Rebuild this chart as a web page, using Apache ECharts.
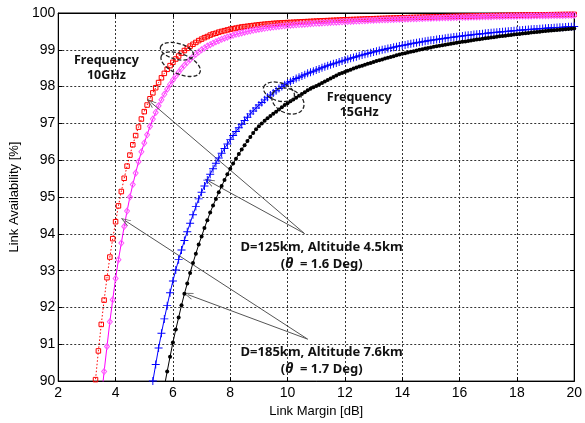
<!DOCTYPE html>
<html><head><meta charset="utf-8">
<script src="https://cdn.jsdelivr.net/npm/echarts@6/dist/echarts.min.js"></script>
<style>html,body{margin:0;padding:0;background:#fff}#c{width:585px;height:423px}</style>
</head><body><div id="c"></div>
<script>
// Link margin samples [dB]
const margin = [3.2,3.3,3.4,3.5,3.6,3.7,3.8,3.9,
4.0,4.1,4.2,4.3,4.4,4.5,4.6,4.7,4.8,4.9,
5.0,5.1,5.2,5.3,5.4,5.5,5.6,5.7,5.8,5.9,
6.0,6.1,6.2,6.3,6.4,6.5,6.6,6.7,6.8,6.9,
7.0,7.1,7.2,7.3,7.4,7.5,7.6,7.7,7.8,7.9,
8.0,8.1,8.2,8.3,8.4,8.5,8.6,8.7,8.8,8.9,
9.0,9.1,9.2,9.3,9.4,9.5,9.6,9.7,9.8,9.9,
10.0,10.1,10.2,10.3,10.4,10.5,10.6,10.7,10.8,10.9,
11.0,11.1,11.2,11.3,11.4,11.5,11.6,11.7,11.8,11.9,
12.0,12.1,12.2,12.3,12.4,12.5,12.6,12.7,12.8,12.9,
13.0,13.1,13.2,13.3,13.4,13.5,13.6,13.7,13.8,13.9,
14.0,14.1,14.2,14.3,14.4,14.5,14.6,14.7,14.8,14.9,
15.0,15.1,15.2,15.3,15.4,15.5,15.6,15.7,15.8,15.9,
16.0,16.1,16.2,16.3,16.4,16.5,16.6,16.7,16.8,16.9,
17.0,17.1,17.2,17.3,17.4,17.5,17.6,17.7,17.8,17.9,
18.0,18.1,18.2,18.3,18.4,18.5,18.6,18.7,18.8,18.9,
19.0,19.1,19.2,19.3,19.4,19.5,19.6,19.7,19.8,19.9,
20.0];

// 10 GHz, D=125km (red squares) - from 3.2 dB
const avail10G_D125 = [89.20,
90.04,90.82,91.54,92.20,92.81,93.37,93.87,
94.33,94.76,95.15,95.51,95.84,96.14,96.42,96.67,96.90,97.12,
97.32,97.50,97.67,97.83,97.97,98.11,98.24,98.36,98.47,98.57,
98.66,98.75,98.83,98.91,98.98,99.04,99.10,99.15,99.20,99.25,
99.29,99.33,99.36,99.40,99.43,99.45,99.48,99.50,99.52,99.54,
99.56,99.575,99.59,99.605,99.62,99.63,99.64,99.65,99.66,99.67,
99.68,99.688,99.695,99.702,99.71,99.717,99.722,99.727,99.732,99.736,
99.74,99.744,99.748,99.752,99.756,99.76,99.764,99.768,99.772,99.776,
99.78,99.784,99.787,99.791,99.794,99.798,99.801,99.805,99.808,99.812,
99.815,99.818,99.821,99.824,99.827,99.830,99.833,99.836,99.839,99.842,
99.845,99.848,99.850,99.853,99.855,99.858,99.860,99.863,99.865,99.868,
99.870,99.872,99.874,99.877,99.879,99.881,99.883,99.885,99.888,99.890,
99.892,99.894,99.896,99.897,99.899,99.901,99.903,99.904,99.906,99.908,
99.910,99.912,99.913,99.915,99.916,99.918,99.920,99.921,99.923,99.924,
99.926,99.927,99.929,99.930,99.932,99.933,99.934,99.936,99.937,99.939,
99.940,99.941,99.942,99.944,99.945,99.946,99.947,99.948,99.950,99.951,
99.952,99.953,99.954,99.955,99.956,99.957,99.958,99.959,99.960,99.961,
99.962];

// 10 GHz, D=185km (magenta diamonds) - from 3.5 dB
const avail10G_D185 = [89.50,90.26,90.94,91.61,92.21,
92.79,93.30,93.75,94.20,94.62,95.00,95.34,95.65,95.96,96.23,
96.47,96.69,96.92,97.12,97.30,97.48,97.64,97.79,97.93,98.06,
98.18,98.29,98.39,98.49,98.58,98.66,98.74,98.81,98.88,98.94,
99.00,99.05,99.10,99.14,99.18,99.22,99.25,99.285,99.315,99.345,
99.37,99.395,99.42,99.44,99.46,99.48,99.50,99.515,99.53,99.545,
99.56,99.573,99.585,99.597,99.608,99.618,99.628,99.637,99.646,99.654,
99.662,99.668,99.674,99.679,99.685,99.691,99.697,99.702,99.708,99.714,
99.720,99.724,99.729,99.733,99.738,99.742,99.747,99.751,99.756,99.760,
99.765,99.769,99.773,99.777,99.781,99.785,99.789,99.793,99.797,99.801,
99.805,99.808,99.811,99.814,99.817,99.820,99.823,99.826,99.829,99.832,
99.835,99.837,99.840,99.842,99.845,99.847,99.850,99.852,99.855,99.857,
99.860,99.862,99.864,99.867,99.869,99.871,99.873,99.875,99.878,99.880,
99.882,99.884,99.886,99.887,99.889,99.891,99.893,99.895,99.896,99.898,
99.900,99.901,99.903,99.904,99.906,99.907,99.909,99.910,99.912,99.913,
99.915,99.916,99.918,99.919,99.920,99.922,99.923,99.924,99.925,99.927,
99.928,99.929,99.930,99.932,99.933,99.934,99.935,99.936,99.938,99.939,
99.940];

// 15 GHz, D=125km (blue plus) - from 5.2 dB
const avail15G_D125 = [89.55,90.00,90.45,90.90,91.30,91.69,92.05,92.40,
92.72,93.02,93.30,93.56,93.82,94.06,94.29,94.52,94.74,94.95,
95.13,95.30,95.46,95.62,95.77,95.92,96.06,96.19,96.32,96.44,
96.56,96.67,96.78,96.88,96.98,97.08,97.17,97.26,97.34,97.42,
97.50,97.57,97.64,97.71,97.77,97.83,97.89,97.95,98.00,98.05,
98.10,98.14,98.18,98.22,98.255,98.29,98.325,98.36,98.39,98.42,
98.45,98.48,98.51,98.54,98.57,98.595,98.62,98.645,98.67,98.695,
98.72,
98.744,98.768,98.791,98.814,98.837,98.859,98.880,98.901,98.922,98.943,
98.962,98.981,98.999,99.017,99.035,99.052,99.069,99.086,99.102,99.118,
99.133,99.148,99.162,99.176,99.190,99.204,99.218,99.231,99.244,99.257,
99.269,99.281,99.292,99.303,99.314,99.325,99.336,99.347,99.357,99.367,
99.377,99.386,99.395,99.404,99.413,99.422,99.431,99.439,99.447,99.455,
99.463,99.470,99.477,99.484,99.491,99.498,99.505,99.512,99.519,99.526,
99.532,99.538,99.544,99.550,99.556,99.562,99.568,99.574,99.580,99.585,
99.590,99.595,99.600,99.605,99.610,99.615,99.620,99.624,99.628,99.632];

// 15 GHz, D=185km (black dots) - from 5.7 dB
const avail15G_D185 = [89.85,90.26,90.66,
91.05,91.40,91.73,92.06,92.37,92.65,92.94,93.21,93.46,93.71,
93.93,94.16,94.37,94.58,94.77,94.95,95.13,95.30,95.46,95.62,
95.77,95.91,96.04,96.17,96.29,96.41,96.52,96.63,96.74,96.84,
96.92,97.00,97.07,97.14,97.20,97.26,97.32,97.38,97.44,97.50,
97.55,97.60,97.65,97.70,97.75,97.80,97.85,97.90,97.94,97.98,
98.02,98.06,98.10,98.14,98.18,98.22,98.26,98.30,98.34,98.37,
98.40,
98.43,98.46,98.49,98.52,98.545,98.57,98.595,98.62,98.645,98.67,
98.694,98.717,98.74,98.763,98.785,98.807,98.828,98.849,98.87,98.89,
98.909,98.928,98.946,98.964,98.982,98.999,99.016,99.033,99.049,99.065,
99.08,99.095,99.109,99.123,99.137,99.151,99.165,99.178,99.191,99.204,
99.217,99.229,99.242,99.254,99.266,99.277,99.289,99.300,99.311,99.322,
99.333,99.344,99.354,99.365,99.375,99.385,99.395,99.404,99.414,99.423,
99.432,99.441,99.450,99.459,99.468,99.476,99.485,99.493,99.501,99.509,
99.517,99.525,99.532,99.540,99.547,99.554,99.561,99.568,99.575,99.582];

const xTicks = [2,4,6,8,10,12,14,16,18,20];
const yTicks = [90,91,92,93,94,95,96,97,98,99,100];
const xTitle = 'Link Margin [dB]';
const yTitle = 'Link Availability [%]';
const freqLabels = ['Frequency\n10GHz', 'Frequency\n15GHz'];
const caseLabels = [['D=125km, Altitude 4.5km', '1.6'], ['D=185km, Altitude 7.6km', '1.7']];

function pairs(vals) {
  const off = margin.length - vals.length;
  return vals.map((v, i) => [margin[off + i], v]);
}

const chart = echarts.init(document.getElementById('c'), null, {renderer: 'canvas'});
const plusPath = 'path://M4.4,0H5.6V4.4H10V5.6H5.6V10H4.4V5.6H0V4.4H4.4Z';
const arrowPath = 'path://M5,0L10,10L8.8,10L5,2.4L1.2,10L0,10Z';
const tickFont = {fontFamily: 'Liberation Sans, Arial, sans-serif', fontSize: 14, color: '#000'};

const arrowLine = {color: '#555', width: 1, type: 'solid'};

const option = {
  animation: false,
  backgroundColor: '#fff',
  grid: {left: 54, right: 6, top: 13, bottom: 37, show: true, borderColor: '#000', borderWidth: 1},
  xAxis: [{
    type: 'value', min: xTicks[0], max: xTicks[xTicks.length - 1], interval: 2,
    name: xTitle, nameLocation: 'middle', nameGap: 19,
    nameTextStyle: {fontFamily: 'Liberation Sans, Arial, sans-serif', fontSize: 13, color: '#000'},
    axisLine: {show: true, onZero: false, lineStyle: {color: '#000', width: 1}},
    axisTick: {show: true, inside: true, length: 4, lineStyle: {color: '#000'}},
    axisLabel: Object.assign({margin: 5}, tickFont),
    splitLine: {show: true, lineStyle: {color: '#333', width: 1, type: [2, 2]}}
  }, {
    type: 'value', position: 'top', min: xTicks[0], max: xTicks[xTicks.length - 1], interval: 2,
    axisLine: {show: true, onZero: false, lineStyle: {color: '#000'}},
    axisTick: {show: true, inside: true, length: 4, lineStyle: {color: '#000'}},
    axisLabel: {show: false}, splitLine: {show: false}
  }],
  yAxis: [{
    type: 'value', min: yTicks[0], max: yTicks[yTicks.length - 1], interval: 1,
    name: yTitle, nameLocation: 'middle', nameGap: 29,
    nameTextStyle: {fontFamily: 'Liberation Sans, Arial, sans-serif', fontSize: 13, color: '#000'},
    axisLine: {show: true, onZero: false, lineStyle: {color: '#000', width: 1}},
    axisTick: {show: true, inside: true, length: 4, lineStyle: {color: '#000'}},
    axisLabel: Object.assign({margin: 3}, tickFont),
    splitLine: {show: true, lineStyle: {color: '#333', width: 1, type: [2, 2]}}
  }, {
    type: 'value', position: 'right', min: yTicks[0], max: yTicks[yTicks.length - 1], interval: 1,
    axisLine: {show: true, onZero: false, lineStyle: {color: '#000'}},
    axisTick: {show: true, inside: true, length: 4, lineStyle: {color: '#000'}},
    axisLabel: {show: false}, splitLine: {show: false}
  }],
  series: [
    {
      name: '10GHz D=125km', type: 'line', data: pairs(avail10G_D125),
      symbol: 'rect', symbolSize: 4.5, z: 3,
      lineStyle: {color: '#ff0000', width: 1, type: [1.5, 2]},
      itemStyle: {color: 'rgba(0,0,0,0)', borderColor: '#ff0000', borderWidth: 1},
      emphasis: {disabled: true},
      markLine: {
        silent: true, symbol: ['none', arrowPath], symbolSize: [7, 10],
        label: {show: false}, lineStyle: arrowLine, emphasis: {disabled: true},
        data: [
          [{coord: [10.59, 94.01]}, {coord: [5.22, 97.58]}],
          [{coord: [10.59, 94.01]}, {coord: [7.26, 95.43]}],
          [{coord: [10.70, 91.14]}, {coord: [4.33, 94.36]}],
          [{coord: [10.70, 91.14]}, {coord: [6.52, 92.35]}]
        ]
      }
    },
    {
      name: '10GHz D=185km', type: 'line', data: pairs(avail10G_D185),
      symbol: 'diamond', symbolSize: [5, 6], z: 4,
      lineStyle: {color: '#ff00ff', width: 1},
      itemStyle: {color: 'rgba(0,0,0,0)', borderColor: '#ff55ff', borderWidth: 1},
      emphasis: {disabled: true}
    },
    {
      name: '15GHz D=125km', type: 'line', data: pairs(avail15G_D125),
      symbol: plusPath, symbolSize: 8, z: 5,
      lineStyle: {color: '#0000ff', width: 1},
      itemStyle: {color: '#0000ff'},
      emphasis: {disabled: true}
    },
    {
      name: '15GHz D=185km', type: 'line', data: pairs(avail15G_D185),
      symbol: 'circle', symbolSize: 4, z: 6,
      lineStyle: {color: '#000', width: 1},
      itemStyle: {color: '#000'},
      emphasis: {disabled: true}
    }
  ]
};
chart.setOption(option);

const px = (x, y) => chart.convertToPixel({xAxisIndex: 0, yAxisIndex: 0}, [x, y]);
const annFont = 'Noto Sans, sans-serif';
function ell(x, y, rx, ry, rot) {
  const p = px(x, y);
  return {type: 'ellipse', x: p[0], y: p[1], rotation: rot, silent: true, z: 100,
    shape: {cx: 0, cy: 0, rx: rx, ry: ry},
    style: {fill: 'none', stroke: '#222', lineWidth: 1.3, lineDash: [4, 2]}};
}
function freqText(x, y, t) {
  const p = px(x, y);
  return {type: 'text', x: p[0], y: p[1], silent: true, z: 101,
    style: {text: t, align: 'center', verticalAlign: 'middle', fontFamily: annFont,
      fontSize: 12.5, fontWeight: 'bold', lineHeight: 15, fill: '#111'}};
}
function caseText(x, y, c) {
  const p = px(x, y);
  return {type: 'text', x: p[0], y: p[1], silent: true, z: 101,
    style: {text: '{n|' + c[0] + '}\n{n|(}{i|θ}{n|  = ' + c[1] + ' Deg)}',
      align: 'center', verticalAlign: 'middle',
      rich: {
        n: {fontFamily: annFont, fontSize: 13, fontWeight: 'bold', fill: '#111', lineHeight: 16.5},
        i: {fontFamily: annFont, fontSize: 14, fontStyle: 'italic', fontWeight: 'bold', fill: '#111', lineHeight: 16.5}
      }}};
}
chart.setOption({
  graphic: [
    ell(6.14, 98.96, 17, 8, -0.25),
    ell(6.27, 98.61, 21, 10, -0.4),
    ell(9.70, 97.86, 16, 9, -0.3),
    ell(10.01, 97.61, 17, 12, -0.45),
    freqText(3.68, 98.50, freqLabels[0]),
    freqText(12.50, 97.50, freqLabels[1]),
    caseText(11.19, 93.41, caseLabels[0]),
    caseText(11.19, 90.555, caseLabels[1])
  ]
});
</script>
</body></html>
